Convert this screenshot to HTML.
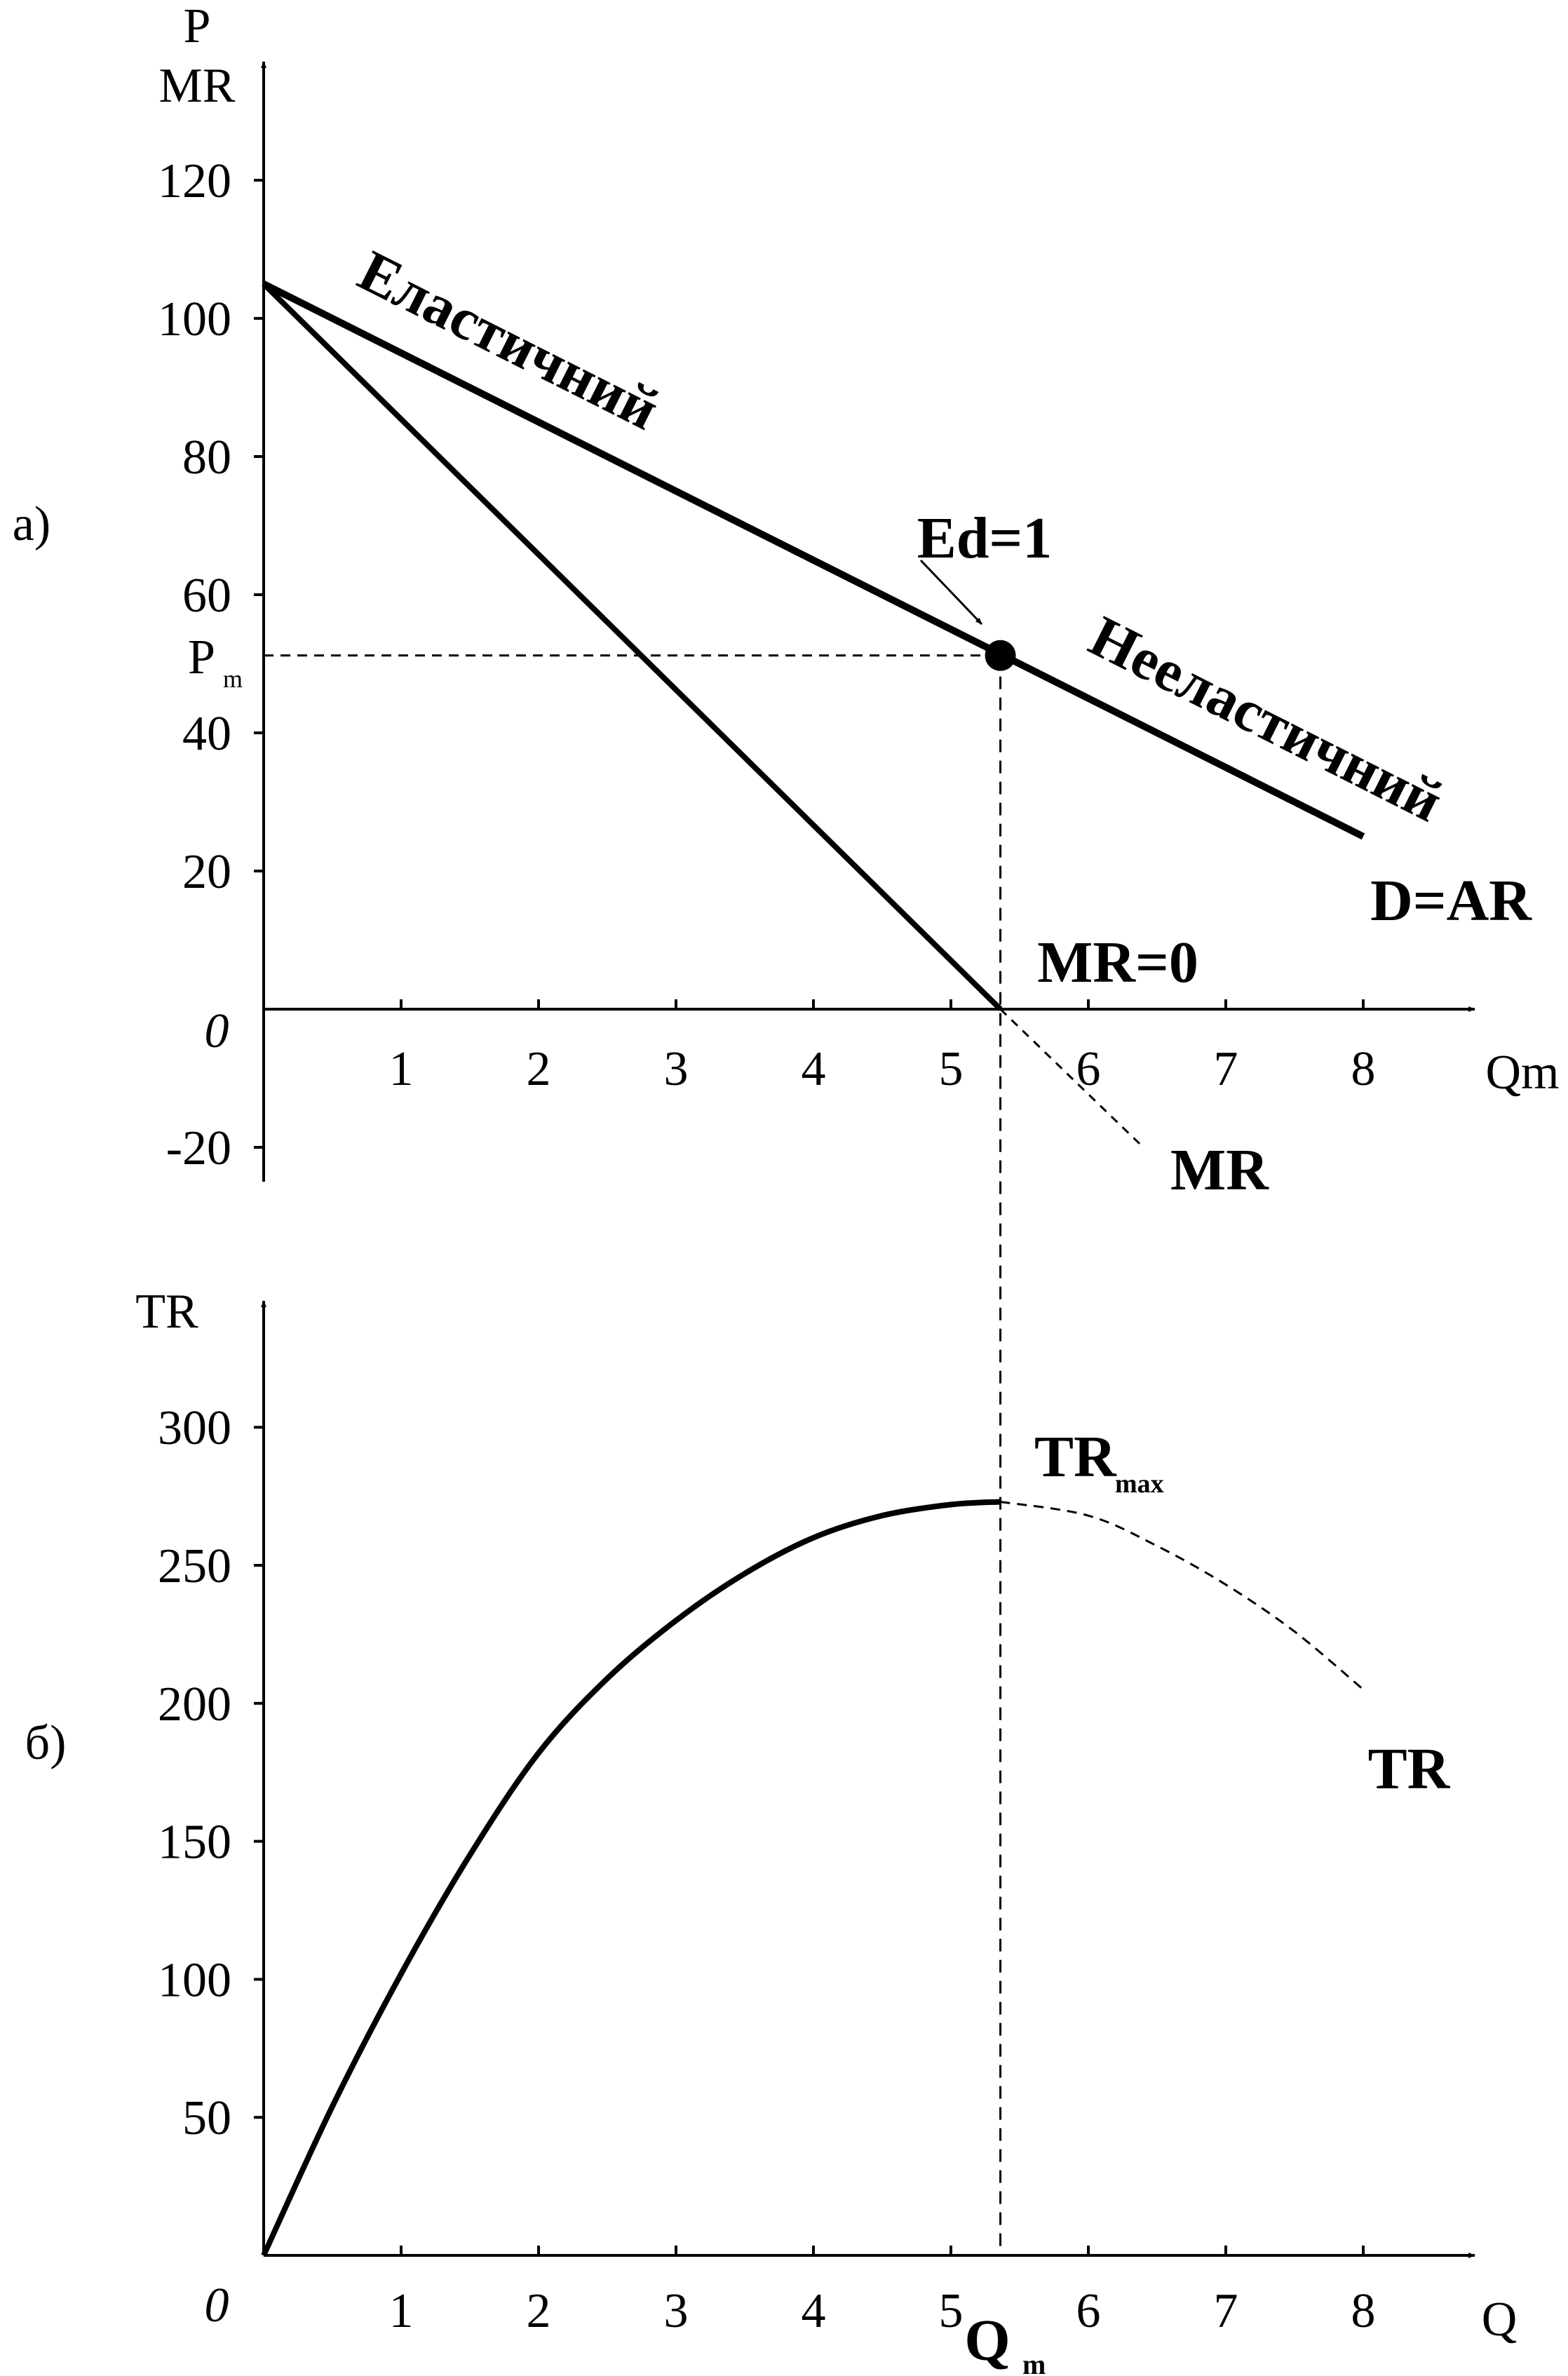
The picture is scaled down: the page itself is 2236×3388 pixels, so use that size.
<!DOCTYPE html>
<html><head><meta charset="utf-8"><style>
html,body{margin:0;padding:0;background:#fff}
svg{display:block}
text{font-family:"Liberation Serif",serif;fill:#000}
.t{font-size:70px}
.b{font-weight:bold;font-size:84px}
</style></head><body>
<svg id="c" width="2236" height="3388" viewBox="0 0 2236 3388" xmlns="http://www.w3.org/2000/svg">
<defs><marker id="ah" markerWidth="10" markerHeight="8" refX="9" refY="4" orient="auto" markerUnits="userSpaceOnUse" viewBox="0 0 10 8"><path d="M0,0 L10,4 L0,8 z"/></marker></defs>
<g id="top"></g>
<g id="bot"></g>
</svg>
<script>
const qTicks=[1,2,3,4,5,6,7,8];
const pTicks=[-20,20,40,60,80,100,120];
const trTicks=[50,100,150,200,250,300];
const demandQ=[0,8];
const demandP=[105,25];
const mrQ=[0,5.36];
const mrP=[105,0];
const mrDashQ=[5.36,6.4];
const mrDashP=[0,-20];
const qm=5.36, pm=51.2;
const trQ=[0,0.5,1,1.5,2,2.5,3,3.5,4,4.5,5,5.36];
const trV=[0,54,102,145,182,209,230,247,260,268,272,273];
const trDashQ=[5.36,6,6.5,7,7.5,8];
const trDashV=[273,268,257,243,226,205];

const NS="http://www.w3.org/2000/svg";
const X0=376, UX=196;
const sx=q=>X0+q*UX;
const Y0a=1439, UPa=197/20;
const sy=p=>Y0a-p*UPa;
const Y0b=3216, UTb=196.8/50;
const sty=v=>Y0b-v*UTb;
function mk(par,tag,at,txt){const e=document.createElementNS(NS,tag);for(const k in at)e.setAttribute(k,at[k]);if(txt!==undefined)e.textContent=txt;par.appendChild(e);return e;}
function pl(xs,ys,fx,fy){return xs.map((q,i)=>fx(q).toFixed(1)+','+fy(ys[i]).toFixed(1)).join(' ');}
function smooth(xs,ys,fx,fy){const p=xs.map((q,i)=>[fx(q),fy(ys[i])]);let d='M'+p[0][0]+','+p[0][1];for(let i=0;i<p.length-1;i++){const p0=p[Math.max(0,i-1)],p1=p[i],p2=p[i+1],p3=p[Math.min(p.length-1,i+2)];d+=' C'+(p1[0]+(p2[0]-p0[0])/6)+','+(p1[1]+(p2[1]-p0[1])/6)+' '+(p2[0]-(p3[0]-p1[0])/6)+','+(p2[1]-(p3[1]-p1[1])/6)+' '+p2[0]+','+p2[1];}return d;}

const T=document.getElementById('top');
let e;
e=mk(T,'line',{x1:X0,y1:1685,x2:X0,y2:88,stroke:'#000','stroke-width':4,'marker-end':'url(#ah)'});


e=mk(T,'line',{x1:X0,y1:Y0a,x2:2103,y2:Y0a,stroke:'#000','stroke-width':4,'marker-end':'url(#ah)'});


document.querySelector('#ah path').setAttribute('transform','');
pTicks.forEach(p=>{
 e=mk(T,'line',{x1:X0-14,y1:sy(p),x2:X0,y2:sy(p),stroke:'#000','stroke-width':4});
 
 
 e=mk(T,'text',{x:330,y:sy(p)+24,class:'t','text-anchor':'end'},String(p));
 
 
});
qTicks.forEach(q=>{
 e=mk(T,'line',{x1:sx(q),y1:Y0a-14,x2:sx(q),y2:Y0a,stroke:'#000','stroke-width':4});
 
 
 e=mk(T,'text',{x:sx(q),y:1547,class:'t','text-anchor':'middle'},String(q));
 
 
});
e=mk(T,'line',{x1:X0,y1:sy(pm),x2:sx(qm),y2:sy(pm),stroke:'#000','stroke-width':3,'stroke-dasharray':'14,10'});


e=mk(T,'line',{x1:sx(qm),y1:sy(pm),x2:sx(qm),y2:Y0b,stroke:'#000','stroke-width':3,'stroke-dasharray':'18,12'});


e=mk(T,'polyline',{points:pl(demandQ,demandP,sx,sy),fill:'none',stroke:'#000','stroke-width':10});


e=mk(T,'polyline',{points:pl(mrQ,mrP,sx,sy),fill:'none',stroke:'#000','stroke-width':8});


e=mk(T,'polyline',{points:pl(mrDashQ,mrDashP,sx,sy),fill:'none',stroke:'#000','stroke-width':3,'stroke-dasharray':'12,10'});


e=mk(T,'circle',{cx:sx(qm),cy:sy(pm),r:22,fill:'#000'});


e=mk(T,'line',{x1:1313,y1:799,x2:1400,y2:890,stroke:'#000','stroke-width':3,'marker-end':'url(#ah)'});


const labsTop=[
 ['P',281,60,'t','middle','y-axis-title-p'],
 ['MR',281,145,'t','middle','y-axis-title-mr'],
 ['а)',45,770,'t','middle','panel-a-label'],
 ['Qm',2171,1552,'t','middle','q-axis-title-top'],
 ['Ed=1',1404,795,'b','middle','ed-label'],
 ['D=AR',2069,1312,'b','middle','demand-label'],
 ['MR=0',1594,1400,'b','middle','mr-zero-label'],
 ['MR',1739,1696,'b','middle','mr-label']];
labsTop.forEach(l=>{e=mk(T,'text',{x:l[1],y:l[2],class:l[3],'text-anchor':l[4]},l[0]);});
e=mk(T,'text',{x:309,y:1493,class:'t','text-anchor':'middle','font-style':'italic'},'0');


e=mk(T,'text',{x:268,y:960,class:'t','text-anchor':'start'},'P');


e=mk(T,'text',{x:318,y:980,'font-size':'36px','text-anchor':'start'},'m');


e=mk(T,'text',{x:0,y:0,class:'b','text-anchor':'middle',transform:'translate(713,510) rotate(26.7)'},'Еластичний');


e=mk(T,'text',{x:0,y:0,class:'b','text-anchor':'middle',transform:'translate(1793,1050) rotate(26.7)'},'Нееластичний');



const B=document.getElementById('bot');
e=mk(B,'line',{x1:X0,y1:Y0b,x2:X0,y2:1855,stroke:'#000','stroke-width':4,'marker-end':'url(#ah)'});


e=mk(B,'line',{x1:X0,y1:Y0b,x2:2103,y2:Y0b,stroke:'#000','stroke-width':4,'marker-end':'url(#ah)'});


trTicks.forEach(v=>{
 e=mk(B,'line',{x1:X0-14,y1:sty(v),x2:X0,y2:sty(v),stroke:'#000','stroke-width':4});
 
 
 e=mk(B,'text',{x:330,y:sty(v)+24,class:'t','text-anchor':'end'},String(v));
 
 
});
qTicks.forEach(q=>{
 e=mk(B,'line',{x1:sx(q),y1:Y0b-14,x2:sx(q),y2:Y0b,stroke:'#000','stroke-width':4});
 
 
 e=mk(B,'text',{x:sx(q),y:3318,class:'t','text-anchor':'middle'},String(q));
 
 
});
e=mk(B,'path',{d:smooth(trQ,trV,sx,sty),fill:'none',stroke:'#000','stroke-width':8});


e=mk(B,'path',{d:smooth(trDashQ,trDashV,sx,sty),fill:'none',stroke:'#000','stroke-width':3,'stroke-dasharray':'14,10'});


const labsBot=[
 ['TR',238,1893,'t','middle','tr-axis-title'],
 ['б)',65,2508,'t','middle','panel-b-label'],
 ['Q',2138,3330,'t','middle','q-axis-title-bottom'],
 ['TR',2009,2550,'b','middle','tr-label']];
labsBot.forEach(l=>{e=mk(B,'text',{x:l[1],y:l[2],class:l[3],'text-anchor':l[4]},l[0]);});
e=mk(B,'text',{x:0,y:3310,class:'t','text-anchor':'middle','font-style':'italic'},'0');
e.setAttribute('x','309');


e=mk(B,'text',{x:1475,y:2105,class:'b','text-anchor':'start'},'TR');


e=mk(B,'text',{x:1590,y:2128,'font-size':'38px','font-weight':'bold','text-anchor':'start'},'max');


e=mk(B,'text',{x:1408,y:3365,class:'b','text-anchor':'middle'},'Q');


e=mk(B,'text',{x:1458,y:3385,'font-size':'40px','font-weight':'bold','text-anchor':'start'},'m');


</script>
</body></html>
